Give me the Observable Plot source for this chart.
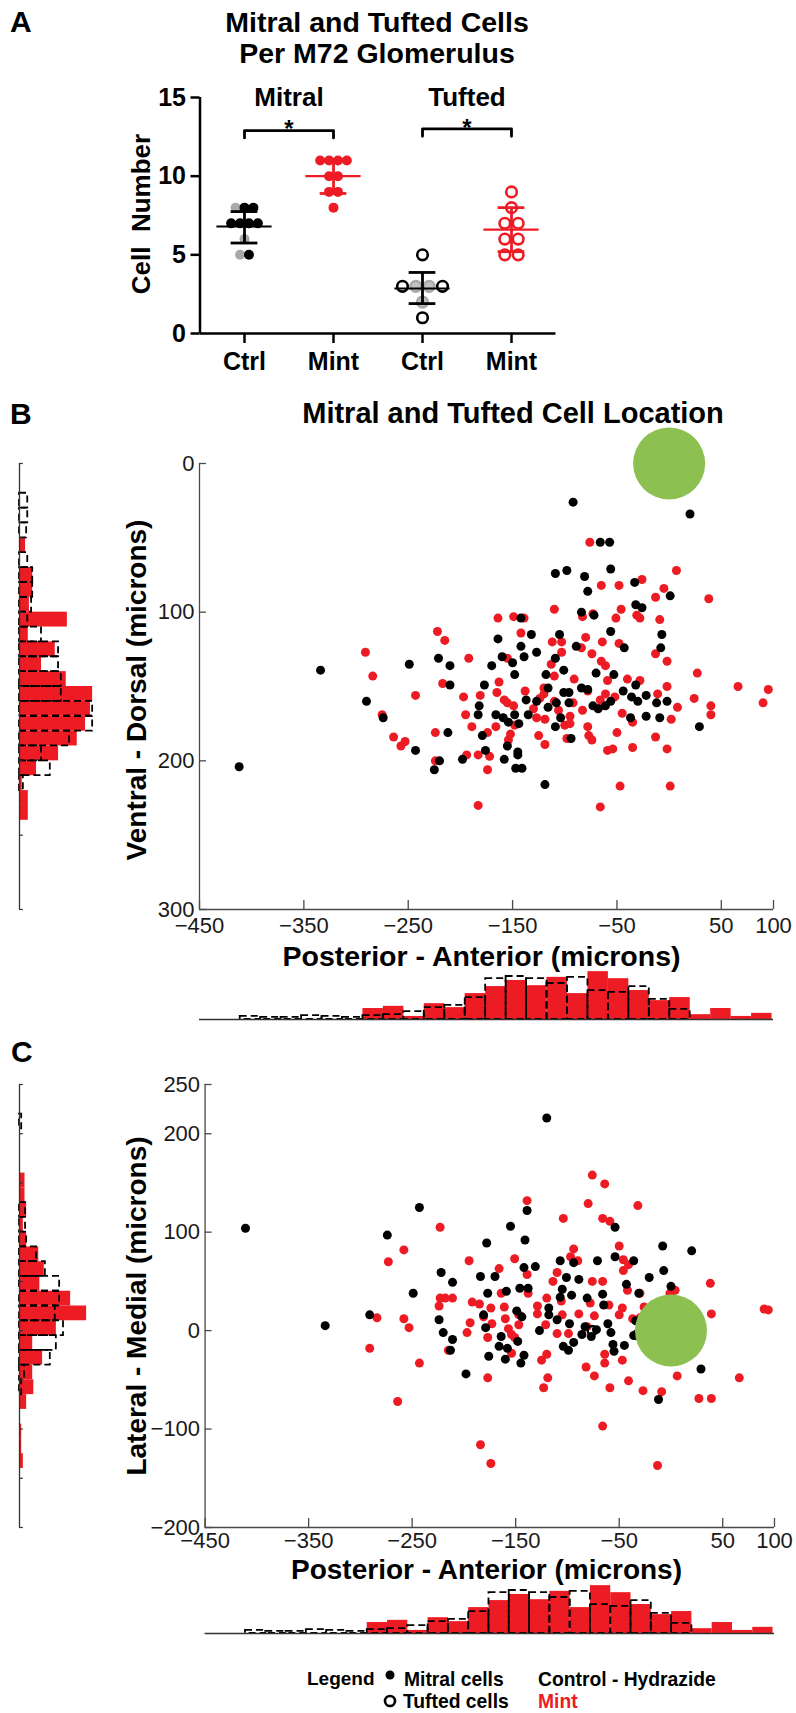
<!DOCTYPE html>
<html><head><meta charset="utf-8">
<script src="https://cdn.jsdelivr.net/npm/d3@7"></script>
<script src="https://cdn.jsdelivr.net/npm/@observablehq/plot@0.6"></script>
<style>
html,body{margin:0;padding:0;background:#fff;}
#fig{position:relative;width:796px;height:1713px;overflow:hidden;background:#fff;}
</style></head><body><div id="fig"></div>
<script>
const RED = "#ed1c24", GREY = "#a9a9a9", GREEN = "#8cc152", AX = "#4a4a4a";
const FONT = "'Liberation Sans', Arial, Helvetica, sans-serif";

// ---------------- Panel A data ----------------
const aTickLabels = ["Ctrl", "Mint", "Ctrl", "Mint"];
const aCellTypes = ["Mitral", "Tufted"];
const aTicksY = [0, 5, 10, 15];
const mitralCtrl = [8, 8, 8, 7, 7, 7, 7, 6, 5, 5];
const mitralCtrlShade = ["grey", "black", "black", "black", "black", "black", "black", "grey", "grey", "black"];
const mitralMint = [11, 11, 11, 11, 10, 10, 9, 9, 8];
const tuftedCtrl = [5, 3, 3, 3, 3, 2, 1];
const tuftedCtrlShade = ["black", "black", "grey", "grey", "black", "grey", "black"];
const tuftedMint = [9, 8, 7, 7, 6, 6, 5, 5];
const aMean = [6.8, 10.0, 2.86, 6.6];
const aSdLow = [5.75, 8.9, 1.9, 5.2];
const aSdHigh = [7.75, 11.05, 3.88, 8.0];
const aBrackets = [{from: 1, to: 2, y: 12.9, label: "*"}, {from: 3, to: 4, y: 13.0, label: "*"}];

// ---------------- Panel B data (posterior-anterior x, ventral-dorsal y, microns) ----------------
const bxTicks = [-450, -350, -250, -150, -50, 50, 100];
const byTicks = [0, 100, 200, 300];
const bCtrl = [[-92,26],[20,34],[-66,53],[-57,53],[-56,71],[-109,74],[-98,72],[-81,76],[-78,86],[-33,80],[-32,95],[-26,97],[1,89],[-84,100],[-72,102],[-142,104],[-56,113],[-7,115],[-8,124],[-43,124],[-89,123],[-105,115],[-132,115],[-164,118],[-142,123],[-139,130],[-127,127],[-160,130],[-150,134],[-109,131],[-101,139],[-118,142],[-70,141],[-53,142],[-148,142],[-170,136],[-221,131],[-210,136],[-249,135],[-334,139],[-290,160],[-274,171],[-210,149],[-177,149],[-116,151],[-101,154],[-96,154],[-84,151],[-78,152],[-32,149],[-44,153],[-36,157],[-30,160],[-22,156],[-12,161],[-2,160],[-56,160],[-61,163],[-73,163],[-68,165],[-37,171],[-22,170],[-9,171],[29,177],[-96,161],[-108,161],[-116,164],[-104,171],[-109,177],[-94,185],[-137,159],[-135,169],[-148,169],[-159,171],[-166,169],[-182,163],[-183,169],[-154,174],[-144,175],[-179,183],[-155,190],[-145,194],[-145,196],[-158,199],[-176,193],[-198,199],[-220,200],[-225,206],[-243,193],[-212,181],[-147,205],[-141,205],[-119,216],[-412,204],[-127,160]];
const bMint = [[-76,53],[7,72],[-26,78],[-65,82],[-48,82],[38,91],[-13,90],[-5,84],[-110,98],[-46,98],[-51,104],[-83,103],[-73,101],[-31,102],[-28,104],[-9,105],[-164,104],[-149,103],[-139,104],[-142,114],[-222,113],[-215,119],[-291,127],[-284,143],[-275,169],[-243,156],[-192,131],[-155,131],[-112,120],[-103,120],[-80,117],[-84,124],[-74,128],[-64,120],[-48,121],[-103,127],[-113,135],[-110,143],[-91,145],[-65,133],[-61,136],[-59,146],[-40,145],[-28,146],[-13,128],[-2,133],[27,141],[-2,150],[-11,155],[24,158],[40,163],[40,169],[66,150],[95,152],[90,161],[8,164],[2,172],[-35,174],[-45,168],[-52,157],[-66,159],[-78,153],[-65,163],[-83,166],[-95,170],[-95,175],[-78,177],[-98,185],[-77,183],[-74,186],[-50,181],[-59,193],[-54,192],[-35,191],[-13,184],[-2,192],[1,217],[-47,217],[-66,231],[-183,230],[-174,206],[-183,196],[-172,197],[-194,196],[-189,177],[-195,169],[-197,157],[-181,156],[-165,154],[-163,147],[-217,148],[-224,181],[-224,200],[-264,184],[-257,190],[-253,187],[-174,181],[-166,177],[-158,159],[-155,161],[-149,163],[-148,176],[-152,182],[-154,186],[-138,153],[-130,165],[-127,171],[-124,158],[-120,151],[-120,155],[-119,172],[-125,183],[-119,189],[-110,160],[-106,166],[-100,176],[-92,161],[-61,155]];
const glomerulus = [[0, 0]];
// left histogram of B: [bin start (microns), relative frequency], bin width 10
const bLeftBin = 10;
const bLeftMint = [[50,1.1],[70,2.4],[80,2.4],[90,1.8],[100,8.7],[110,1.6],[120,6.5],[130,4.0],[140,8.5],[150,13.3],[160,12.9],[170,12.0],[180,10.5],[190,7.1],[200,3.1],[210,0.5],[220,1.6],[230,1.6]];
const bLeftCtrl = [[20,1.5],[30,1.5],[40,1.3],[60,1.5],[70,2.4],[80,2.4],[90,2.2],[100,1.5],[110,4.0],[120,7.1],[130,7.1],[140,7.6],[150,7.6],[160,13.3],[170,13.3],[180,9.1],[190,4.0],[200,5.6],[210,0.7]];

// ---------------- Panel C data (posterior-anterior x, lateral-medial y, microns) ----------------
const cxTicks = [-450, -350, -250, -150, -50, 50, 100];
const cyTicks = [-200, -100, 0, 100, 200, 250];
const cCtrl = [[-120,216],[-411,104],[-334,5],[-291,16],[-274,97],[-243,125],[-249,38],[-222,59],[-211,49],[-224,11],[-220,-2],[-211,-9],[-213,-20],[-198,-44],[-184,55],[-170,55],[-178,89],[-177,38],[-181,16],[-179,3],[-164,-6],[-166,-16],[-176,-26],[-160,-29],[-158,-18],[-145,-33],[-142,-25],[-148,-11],[-155,106],[-141,92],[-139,122],[-159,40],[-146,43],[-142,64],[-131,65],[-138,43],[-149,20],[-144,14],[-127,0],[-118,23],[-107,71],[-94,69],[-101,54],[-107,34],[-105,42],[-96,36],[-89,52],[-110,11],[-98,7],[-104,-16],[-99,-20],[-94,-12],[-81,33],[-71,71],[-66,37],[-54,105],[-54,75],[-36,71],[-43,47],[-21,54],[-8,86],[-7,61],[0,45],[20,81],[-83,4],[-77,-6],[-72,1],[-61,7],[-65,26],[-58,-2],[-56,-14],[-55,-21],[-45,-15],[-36,-5],[-34,10],[-31,38],[29,-39],[-12,-70],[-86,-4],[-118,16]];
const cCtrlTufted = [[-76,0],[-32,-4]];
const cMint = [[-76,158],[-64,149],[-139,132],[-80,129],[-32,127],[-104,114],[-66,114],[-59,111],[-223,105],[-258,82],[-273,70],[-195,71],[-151,73],[-166,63],[-94,83],[-97,75],[-90,71],[-50,86],[-46,72],[-46,61],[-41,67],[-76,50],[-66,50],[38,48],[39,17],[4,41],[-30,38],[90,22],[94,21],[-284,13],[-258,12],[-253,3],[-291,-18],[-243,-33],[-223,33],[-218,33],[-211,33],[-224,25],[-192,29],[-185,27],[-197,-2],[-194,8],[-174,23],[-164,38],[-161,24],[-181,14],[-173,7],[-177,-7],[-160,12],[-157,2],[-154,-4],[-151,-7],[-147,6],[-154,-23],[-147,16],[-138,38],[-139,57],[-129,25],[-129,17],[-121,6],[-120,33],[-114,50],[-110,59],[-106,30],[-105,16],[-110,-3],[-99,-3],[-89,17],[-78,28],[-81,4],[-74,15],[-47,23],[-50,16],[-60,26],[-37,12],[-30,13],[-42,41],[-26,24],[-1,38],[6,-46],[-27,-61],[-9,-62],[27,-69],[39,-69],[66,-48],[-41,-51],[-59,-58],[-74,-46],[-82,-37],[-64,-24],[-64,-33],[-47,-30],[-66,-97],[-119,-48],[-123,-58],[-120,-24],[-125,-30],[-177,-48],[-184,-116],[-174,-135],[-13,-137],[-264,-72],[-215,-20]];
// left histogram of C: [bin start, relative frequency], bin width 15
const cLeftBin = 15;
const cLeftMint = [[145,1.0],[130,1.0],[115,1.3],[100,0.7],[85,1.3],[70,3.5],[55,4.5],[40,3.7],[25,9.3],[10,12.2],[-5,6.7],[-20,2.4],[-35,4.2],[-50,2.4],[-65,2.6],[-80,1.3],[-110,0.4],[-125,0.4],[-140,0.7]];
const cLeftCtrl = [[205,0.4],[115,1.1],[100,1.1],[85,1.3],[70,3.1],[55,4.7],[40,7.3],[25,7.3],[10,6.5],[-5,8.0],[-20,6.7],[-35,5.6],[-50,0.9],[-65,0.4]];

// bottom histogram (posterior-anterior, shared by B and C): 26 bins starting at -411, width 19.6
const paBinStart = -411, paBinWidth = 19.6;
const paMint = [0,0,0,0,0,0, 2.5,3.0,0.7,3.6,2.7,5.9,7.5,8.9,7.7,9.6,5.9,10.9,9.3,6.6,4.3,5.0,1.1,2.5,0.7,1.4];
const paCtrl = [0.7,0.5,0.5,0.9,0.7,0.5,0.9,1.1,1.8,2.7,3.2,5.0,9.3,9.8,9.3,8.2,9.6,6.6,6.2,7.5,4.6,2.3,0,0,0,0];

// ---------------- helpers ----------------
const fig = document.getElementById("fig");
function put(el, left, top) {
  el.style.position = "absolute"; el.style.left = left + "px"; el.style.top = top + "px";
  fig.appendChild(el); return el;
}
function place(values, gx, spacing) {
  const groups = d3.group(d3.range(values.length), i => values[i]);
  const xs = new Array(values.length);
  for (const idx of groups.values()) idx.forEach((i, k) => xs[i] = gx + (k - (idx.length - 1) / 2) * spacing);
  return xs;
}
function strip(values, colors, gx, spacing) {
  const xs = place(values, gx, spacing);
  return values.map((v, i) => ({x: xs[i], y: v, color: colors[i]}));
}
const shade = s => s === "grey" ? GREY : "black";

// ---------------- Panel A ----------------
const mitralPts = [...strip(mitralCtrl, mitralCtrlShade.map(shade), 1, 0.1), ...strip(mitralMint, mitralMint.map(() => RED), 2, 0.1)];
const tuftedPts = [...strip(tuftedCtrl, tuftedCtrlShade.map(shade), 3, 0.15), ...strip(tuftedMint, tuftedMint.map(() => RED), 4, 0.15)];
const stats = aMean.map((m, i) => ({x: i + 1, mean: m, lo: aSdLow[i], hi: aSdHigh[i], color: i % 2 ? RED : "black"}));
const bracketPts = aBrackets.flatMap((b, i) => [
  {id: i, x: b.from, y: b.y - 0.47}, {id: i, x: b.from, y: b.y}, {id: i, x: b.to, y: b.y}, {id: i, x: b.to, y: b.y - 0.47}]);
const aPxX = 89, aPxY = 15.73;

const plotA = Plot.plot({
  width: 796, height: 400, marginTop: 97, marginBottom: 67, marginLeft: 199.5, marginRight: 240.5,
  style: {fontFamily: FONT, fontSize: "25px", fontWeight: "bold", color: "black", background: "transparent", overflow: "visible"},
  x: {domain: [0.5, 4.5], ticks: [1, 2, 3, 4], tickFormat: d => aTickLabels[d - 1], tickSize: 0, tickPadding: 19, label: null},
  y: {domain: [0, 15], ticks: aTicksY, tickSize: 0, tickPadding: 14, label: null},
  color: {type: "identity"},
  marks: [
    Plot.dot(mitralPts, {x: "x", y: "y", r: 5, fill: "color"}),
    Plot.dot(tuftedPts, {x: "x", y: "y", r: 5.3, fill: d => d.color === GREY ? "#c2c2c2" : "none", stroke: "color", strokeWidth: 2.6}),
    Plot.ruleX(stats, {x: "x", y1: "lo", y2: "hi", stroke: "color", strokeWidth: 2.8}),
    Plot.ruleY(stats, {y: "mean", x1: d => d.x - 0.31, x2: d => d.x + 0.31, stroke: "color", strokeWidth: 2.2}),
    Plot.ruleY(stats, {y: "lo", x1: d => d.x - 0.15, x2: d => d.x + 0.15, stroke: "color", strokeWidth: 2.8}),
    Plot.ruleY(stats, {y: "hi", x1: d => d.x - 0.15, x2: d => d.x + 0.15, stroke: "color", strokeWidth: 2.8}),
    Plot.ruleX([0.5], {stroke: "black", strokeWidth: 2.5}),
    Plot.ruleY([0], {stroke: "black", strokeWidth: 2.5}),
    Plot.ruleX([1, 2, 3, 4], {y1: 0, y2: -10 / aPxY, stroke: "black", strokeWidth: 2.5}),
    Plot.ruleY(aTicksY, {x1: 0.5, x2: 0.5 - 9 / aPxX, stroke: "black", strokeWidth: 2.5}),
    Plot.line(bracketPts, {x: "x", y: "y", z: "id", stroke: "black", strokeWidth: 2.8}),
    Plot.text(aBrackets, {x: d => (d.from + d.to) / 2, y: "y", text: "label", fontSize: 24, fontWeight: "bold", lineAnchor: "middle", dy: -1}),
    Plot.text(aCellTypes, {x: (d, i) => 1.5 + 2 * i, y: () => 15, text: d => d, fontSize: 26, fontWeight: "bold", lineAnchor: "middle"})
  ]
});
put(plotA, 0, 0);

// ---------------- scatter builder ----------------
function scatter({top, height, mt, mb, ml, mr, yDomain, yReverse, xTicks, yTicks, pxX, pxY, ctrl, ctrlTufted, mint, xPad}) {
  const y0 = yReverse ? yDomain[1] : yDomain[0];
  return put(Plot.plot({
    width: 796, height, marginTop: mt, marginBottom: mb, marginLeft: ml, marginRight: mr,
    style: {fontFamily: FONT, fontSize: "22px", color: "#1a1a1a", background: "transparent", overflow: "visible"},
    x: {domain: [-450, 100], ticks: xTicks, tickSize: 0, tickPadding: xPad, label: null},
    y: {domain: yDomain, reverse: yReverse, ticks: yTicks, tickSize: 0, tickPadding: 5, label: null},
    marks: [
      Plot.ruleX([-450], {stroke: AX, strokeWidth: 1.3}),
      Plot.ruleY([y0], {stroke: AX, strokeWidth: 1.3}),
      Plot.ruleY(yTicks, {x1: -450, x2: -450 + 7 / pxX, stroke: AX, strokeWidth: 1.3}),
      Plot.ruleX(xTicks, {y1: y0, y2: y0 + (yReverse ? -1 : 1) * 9 / pxY, stroke: AX, strokeWidth: 1.3}),
      Plot.dot(mint, {x: d => d[0], y: d => d[1], r: 4.5, fill: RED}),
      Plot.dot(ctrl, {x: d => d[0], y: d => d[1], r: 4.5, fill: "black"}),
      Plot.dot(ctrlTufted || [], {x: d => d[0], y: d => d[1], r: 4.6, fill: "none", stroke: "black", strokeWidth: 2.4}),
      Plot.dot(glomerulus, {x: d => d[0], y: d => d[1], r: 36, fill: GREEN})
    ]
  }), 0, top);
}
function leftHist({top, height, mt, mb, yDomain, yReverse, bin, mint, ctrl, ticks}) {
  return put(Plot.plot({
    width: 110, height, marginTop: mt, marginBottom: mb, marginLeft: 19, marginRight: 14,
    style: {background: "transparent", overflow: "visible"},
    x: {domain: [0, 14], axis: null},
    y: {domain: yDomain, reverse: yReverse, axis: null},
    marks: [
      Plot.rect(mint, {x1: 0, x2: d => d[1], y1: d => d[0], y2: d => d[0] + bin, fill: RED}),
      Plot.rect(ctrl, {x1: 0, x2: d => d[1], y1: d => d[0], y2: d => d[0] + bin, fill: "none", stroke: "black", strokeWidth: 1.8, strokeDasharray: "7,4"}),
      Plot.ruleX([0], {stroke: "#333", strokeWidth: 1.3}),
      Plot.ruleY(ticks, {x1: 0, x2: 0.7, stroke: "#333", strokeWidth: 1.2})
    ]
  }), 0, top);
}
function bottomHist({top, ml, mr, mb}) {
  const bins = d3.range(paMint.length).map(j => ({x1: paBinStart + j * paBinWidth, x2: paBinStart + (j + 1) * paBinWidth, mint: paMint[j], ctrl: paCtrl[j]}));
  return put(Plot.plot({
    width: 796, height: 70, marginTop: 70 - mb - 52, marginBottom: mb, marginLeft: ml, marginRight: mr,
    style: {background: "transparent", overflow: "visible"},
    x: {domain: [-450, 100], axis: null},
    y: {domain: [0, 52 / 4.39], axis: null},
    marks: [
      Plot.rect(bins.filter(d => d.mint > 0), {x1: "x1", x2: "x2", y1: 0, y2: "mint", fill: RED}),
      Plot.rect(bins.filter(d => d.ctrl > 0), {x1: "x1", x2: "x2", y1: 0, y2: "ctrl", fill: "none", stroke: "black", strokeWidth: 1.8, strokeDasharray: "7,4"}),
      Plot.ruleY([0], {stroke: "#333", strokeWidth: 1.5})
    ]
  }), 0, top);
}

// ---------------- Panel B ----------------
leftHist({top: 440, height: 520, mt: 23, mb: 51, yDomain: [0, 300], yReverse: true, bin: bLeftBin, mint: bLeftMint, ctrl: bLeftCtrl, ticks: d3.range(0, 301, 50)});
scatter({top: 440, height: 520, mt: 23, mb: 51, ml: 199, mr: 23, yDomain: [0, 300], yReverse: true, xTicks: bxTicks, yTicks: byTicks, pxX: 1.0436, pxY: 1.487, ctrl: bCtrl, mint: bMint, xPad: 8});
bottomHist({top: 960, ml: 199, mr: 23, mb: 11});

// ---------------- Panel C ----------------
leftHist({top: 1060, height: 500, mt: 24, mb: 33, yDomain: [-200, 250], yReverse: false, bin: cLeftBin, mint: cLeftMint, ctrl: cLeftCtrl, ticks: d3.range(-200, 251, 50)});
scatter({top: 1060, height: 500, mt: 24, mb: 33, ml: 204.6, mr: 22, yDomain: [-200, 250], yReverse: false, xTicks: cxTicks, yTicks: cyTicks, pxX: 1.036, pxY: 0.9806, ctrl: cCtrl, ctrlTufted: cCtrlTufted, mint: cMint, xPad: 5});
bottomHist({top: 1575, ml: 204.6, mr: 22, mb: 12});

// ---------------- text overlay ----------------
const ov = d3.create("svg").attr("width", 796).attr("height", 1713).attr("font-family", FONT).attr("font-weight", "bold")
  .style("position", "absolute").style("left", "0px").style("top", "0px").style("pointer-events", "none").style("overflow", "visible");
const texts = [
  {t: "A", x: 10, y: 32, s: 30},
  {t: "B", x: 10, y: 424, s: 30},
  {t: "C", x: 11, y: 1062, s: 30},
  {t: "Mitral and Tufted Cells", x: 377, y: 32, s: 28.5, a: "middle"},
  {t: "Per M72 Glomerulus", x: 377, y: 63, s: 28.5, a: "middle"},
  {t: "Cell  Number", x: 150, y: 214, s: 26, a: "middle", r: -90},
  {t: "Mitral and Tufted Cell Location", x: 513, y: 423, s: 29, a: "middle"},
  {t: "Ventral - Dorsal (microns)", x: 146, y: 690, s: 28, a: "middle", r: -90},
  {t: "Posterior - Anterior (microns)", x: 481.5, y: 966, s: 28.5, a: "middle"},
  {t: "Lateral - Medial (microns)", x: 146, y: 1306, s: 28, a: "middle", r: -90},
  {t: "Posterior - Anterior (microns)", x: 486.5, y: 1579, s: 28, a: "middle"},
  {t: "Legend", x: 307, y: 1685, s: 19},
  {t: "Mitral cells", x: 404, y: 1686, s: 19.3},
  {t: "Tufted cells", x: 403, y: 1708, s: 19.3},
  {t: "Control - Hydrazide", x: 538, y: 1686, s: 19.3},
  {t: "Mint", x: 538, y: 1708, s: 19.3, f: RED}
];
for (const d of texts) {
  ov.append("text").attr("transform", `translate(${d.x},${d.y})` + (d.r ? ` rotate(${d.r})` : ""))
    .attr("text-anchor", d.a || "start").attr("font-size", d.s).attr("fill", d.f || "black")
    .style("white-space", "pre").text(d.t);
}
ov.append("circle").attr("cx", 390).attr("cy", 1675).attr("r", 4.5).attr("fill", "black");
ov.append("circle").attr("cx", 390).attr("cy", 1701).attr("r", 5).attr("fill", "none").attr("stroke", "black").attr("stroke-width", 2.6);
fig.appendChild(ov.node());
</script></body></html>
